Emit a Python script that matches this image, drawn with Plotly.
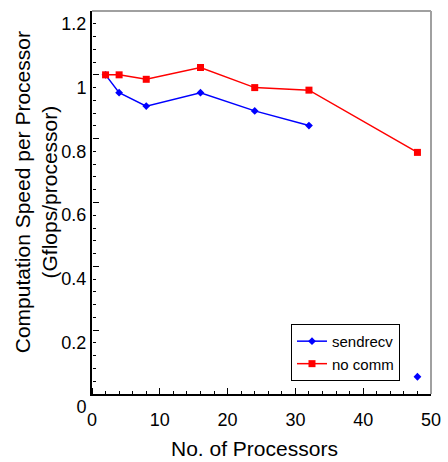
import plotly.graph_objects as go

# Data
procs = [2, 4, 8, 16, 24, 32, 48]
sendrecv = [1.0, 0.944, 0.902, 0.944, 0.887, 0.841, 0.054]
no_comm = [1.0, 1.0, 0.986, 1.023, 0.960, 0.952, 0.757]

x_ticks = [0, 10, 20, 30, 40, 50]
y_ticks = [0, 0.2, 0.4, 0.6, 0.8, 1, 1.2]
y_tick_text = ["0", "0.2", "0.4", "0.6", "0.8", "1", "1.2"]

FONT = "Liberation Sans, Arial, sans-serif"
X_RANGE = [0, 50]
Y_RANGE = [0, 1.2]

# sendrecv line breaks before the last point
sx = procs[:6] + [None] + procs[6:]
sy = sendrecv[:6] + [None] + sendrecv[6:]

fig = go.Figure()
fig.add_trace(go.Scatter(
    x=sx, y=sy, name="sendrecv", mode="lines+markers",
    line=dict(color="#0000ff", width=1.5),
    marker=dict(symbol="diamond", size=6, color="#0000ff"),
    connectgaps=False,
))
fig.add_trace(go.Scatter(
    x=procs, y=no_comm, name="no comm", mode="lines+markers",
    line=dict(color="#ff0000", width=1.5),
    marker=dict(symbol="square", size=7, color="#ff0000"),
))
# invisible helper trace so the tick-mark axes (x2/y2) are drawn
fig.add_trace(go.Scatter(
    x=procs, y=no_comm, xaxis="x2", yaxis="y2", mode="markers",
    marker=dict(opacity=0), showlegend=False, hoverinfo="skip",
))

fig.update_layout(
    width=448, height=462,
    margin=dict(l=92, r=17, t=11, b=68),
    paper_bgcolor="white", plot_bgcolor="white",
    font=dict(family=FONT, color="black"),
    showlegend=True,
    legend=dict(
        x=0.587, y=0.183, xanchor="left", yanchor="top",
        bordercolor="black", borderwidth=1, bgcolor="rgba(255,255,255,0)",
        font=dict(size=15, family=FONT), tracegroupgap=0,
        itemwidth=30,
    ),
    xaxis=dict(
        range=X_RANGE, tickmode="array", tickvals=x_ticks,
        ticks="", showline=True, linecolor="#000000", linewidth=2,
        showgrid=False, zeroline=False, automargin=False,
        tickfont=dict(size=18, family=FONT), ticklabelstandoff=8,
    ),
    yaxis=dict(
        range=Y_RANGE, tickmode="array", tickvals=y_ticks, ticktext=y_tick_text,
        ticks="", showline=True, linecolor="#000000", linewidth=2,
        showgrid=False, zeroline=False, automargin=False,
        tickfont=dict(size=18, family=FONT),
        ticklabelposition="outside bottom",
    ),
    # tick-mark axes: sit on the bottom/left edges, ticks point into the plot
    xaxis2=dict(
        range=X_RANGE, overlaying="x", side="top", anchor="free", position=0,
        tickmode="array", tickvals=x_ticks, showticklabels=False,
        ticks="outside", ticklen=6, tickwidth=1, tickcolor="#000000",
        minor=dict(dtick=2, ticks="outside", ticklen=3, tickcolor="#000000", tickwidth=1),
        showline=False, showgrid=False, zeroline=False, automargin=False,
    ),
    yaxis2=dict(
        range=Y_RANGE, overlaying="y", side="right", anchor="free", position=0,
        tickmode="array", tickvals=y_ticks, showticklabels=False,
        ticks="outside", ticklen=6, tickwidth=1, tickcolor="#000000",
        minor=dict(dtick=0.04, ticks="outside", ticklen=3, tickcolor="#000000", tickwidth=1),
        showline=False, showgrid=False, zeroline=False, automargin=False,
    ),
    annotations=[
        dict(text="No. of Processors", xref="paper", yref="paper",
             x=0.478, y=-0.141, xanchor="center", yanchor="middle",
             showarrow=False, font=dict(size=21, family=FONT)),
        dict(text="Computation Speed per Processor<br>(Gflops/processor)",
             xref="paper", yref="paper", x=-0.165, y=0.527,
             xanchor="center", yanchor="middle", textangle=-90,
             showarrow=False, font=dict(size=21, family=FONT)),
    ],
    shapes=[
        dict(type="line", xref="paper", yref="paper", x0=0, x1=1, y0=1, y1=1,
             line=dict(color="#a0a0a0", width=2)),
        dict(type="line", xref="paper", yref="paper", x0=1, x1=1, y0=0, y1=1,
             line=dict(color="#a0a0a0", width=2)),
    ],
)

fig.write_html("out.html")
